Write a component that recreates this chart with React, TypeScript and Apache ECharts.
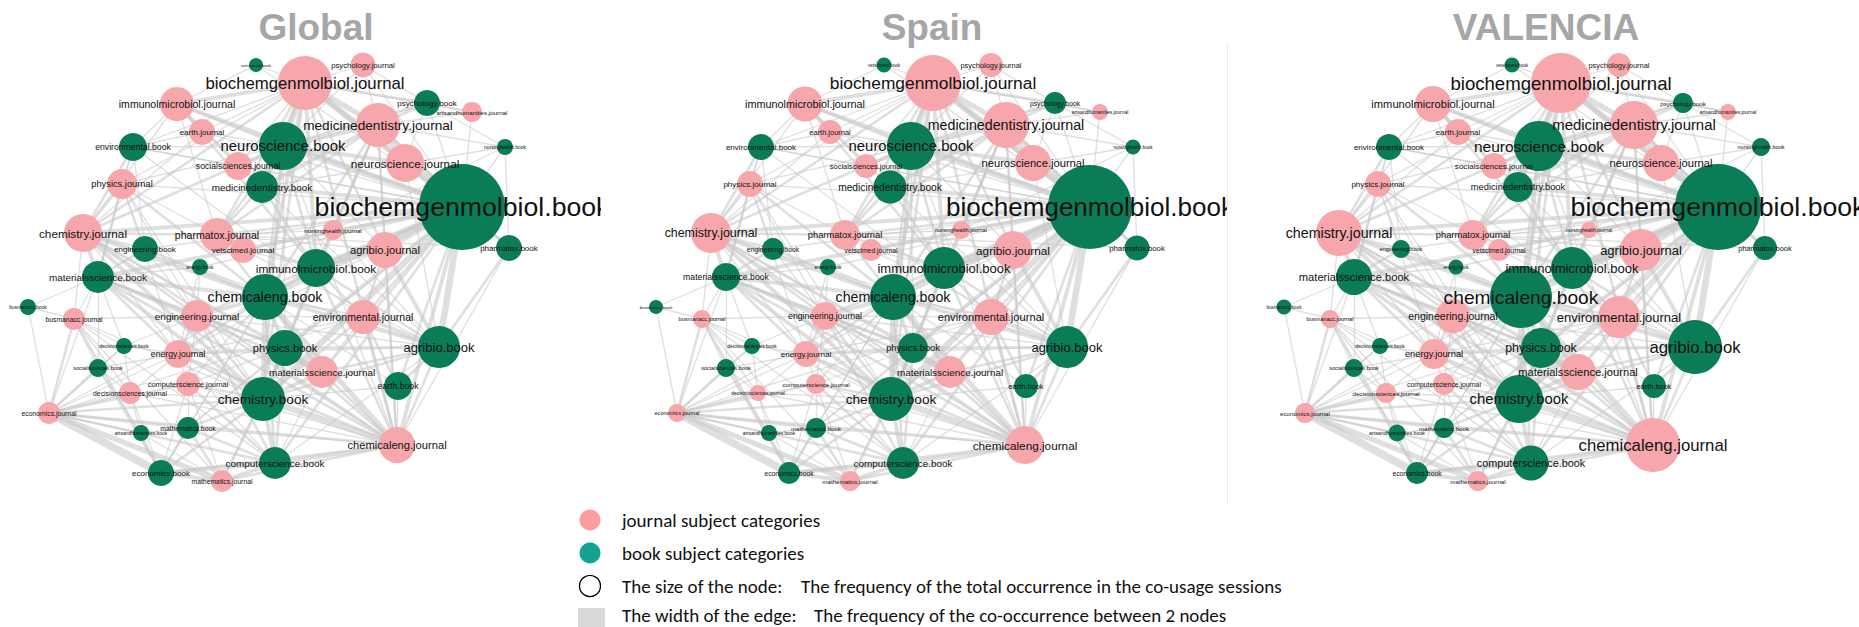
import React, { useEffect, useRef } from "react";
import * as echarts from "echarts";

// ---------- DATA ----------
const panelTitles = ["Global", "Spain", "VALENCIA"];

const nodeNames = [
  "vetscimed.book", "biochemgenmolbiol.journal", "psychology.journal", "immunolmicrobiol.journal",
  "earth.journal", "environmental.book", "neuroscience.book", "medicinedentistry.journal",
  "psychology.book", "artsandhumanities.journal", "nursinghealth.book", "neuroscience.journal",
  "socialsciences.journal", "medicinedentistry.book", "physics.journal", "biochemgenmolbiol.book",
  "engineering.book", "vetscimed.journal", "pharmatox.journal", "chemistry.journal",
  "nursinghealth.journal", "agribio.journal", "pharmatox.book", "energy.book",
  "immunolmicrobiol.book", "materialsscience.book", "chemicaleng.book", "busmanacc.book",
  "busmanacc.journal", "engineering.journal", "environmental.journal", "agribio.book",
  "decisionsciences.book", "energy.journal", "physics.book", "socialsciences.book",
  "materialsscience.journal", "earth.book", "computerscience.journal", "decisionsciences.journal",
  "chemistry.book", "economics.journal", "mathematics.book", "artsandhumanities.book",
  "chemicaleng.journal", "computerscience.book", "economics.book", "mathematics.journal",
];

// layout coordinates of the network (same layout in the three panels)
const layoutX = [
  256, 305, 363, 177, 202, 133, 283, 378, 427, 472, 505, 405, 238, 262, 122, 462,
  145, 243, 217, 83, 333, 385, 509, 200, 316, 98, 265, 28, 74, 197, 363, 439,
  124, 178, 285, 98, 322, 398, 188, 130, 263, 49, 188, 141, 397, 275, 161, 222,
];
const layoutY = [
  65, 83, 65, 104, 132, 147, 146, 125, 103, 112, 147, 163, 166, 187, 184, 207,
  249, 250, 235, 233, 230, 250, 248, 267, 268, 277, 297, 307, 319, 316, 317, 347,
  346, 354, 348, 368, 372, 386, 384, 393, 399, 413, 428, 433, 445, 463, 473, 481,
];

// node size (radius) = total occurrence, per panel
const sizeGlobal = [
  7, 27, 12.5, 17, 13, 14, 24, 22, 13, 10, 8, 19, 14, 16, 15, 43,
  13, 13, 17, 19, 10, 18, 13, 8, 19, 16, 23, 8, 11, 16, 17, 21,
  8, 14, 18, 9, 16, 14, 12, 11, 22, 11, 11, 8, 18, 16, 13, 11,
];
const sizeSpain = [
  7.5, 28, 12, 17.5, 12, 13, 24, 23, 11, 8, 7.5, 18, 12, 16.5, 13, 42,
  11, 11, 15, 20, 9, 19, 12.5, 8, 21, 14, 23, 7, 9, 14, 18, 21,
  8, 13, 15, 9, 16, 12, 10, 8, 22, 9, 10, 8, 19, 16, 11, 10,
];
const sizeValencia = [
  7.5, 30, 12, 18, 13, 13, 25, 24, 10, 8, 9, 18, 13, 15, 13, 43,
  9, 11, 15, 23, 8, 21, 12, 7.5, 21, 18, 31, 7.5, 9, 17, 21, 27,
  8, 15, 20, 9, 18, 12, 11, 10, 24, 10, 10, 8.5, 27, 17.5, 11, 10,
];
const panelSizes = [sizeGlobal, sizeSpain, sizeValencia];

// co-occurrence edges: [source index, target index, weight]
const edges: [number, number, number][] = [
  [15, 1, 5], [15, 6, 4], [15, 7, 4], [15, 24, 5], [15, 26, 5], [15, 40, 5], [15, 31, 5], [15, 21, 3],
  [15, 3, 3], [15, 11, 3], [15, 13, 3], [15, 22, 2], [15, 18, 2], [15, 34, 3], [15, 30, 2], [15, 44, 3],
  [15, 25, 3], [15, 19, 3], [15, 45, 2], [15, 37, 2], [15, 29, 2], [15, 17, 1], [15, 36, 2], [15, 8, 1],
  [15, 20, 1], [15, 10, 1], [15, 33, 1], [15, 4, 1], [15, 14, 1], [15, 5, 1], [15, 12, 1], [15, 42, 1],
  [15, 16, 1], [15, 23, 1], [15, 0, 1], [15, 2, 1], [15, 9, 1],
  [26, 40, 4], [26, 25, 3], [26, 19, 3], [26, 44, 4], [26, 34, 3], [26, 29, 3], [26, 33, 2], [26, 24, 3],
  [26, 31, 3], [26, 30, 2], [26, 36, 3], [26, 45, 2], [26, 6, 2], [26, 7, 2], [26, 1, 3], [26, 16, 2],
  [26, 23, 1], [26, 18, 2], [26, 14, 2], [26, 37, 1], [26, 42, 1], [26, 38, 1],
  [40, 44, 5], [40, 19, 3], [40, 25, 3], [40, 34, 3], [40, 45, 3], [40, 42, 2], [40, 36, 3], [40, 29, 2],
  [40, 33, 2], [40, 31, 2], [40, 30, 2], [40, 24, 2], [40, 7, 2], [40, 6, 2], [40, 1, 2], [40, 46, 2],
  [40, 47, 2], [40, 38, 2], [40, 37, 1], [40, 39, 1], [40, 14, 1],
  [44, 45, 3], [44, 31, 2], [44, 36, 2], [44, 34, 2], [44, 30, 2], [44, 29, 2], [44, 33, 2], [44, 25, 2],
  [44, 37, 1], [44, 46, 2], [44, 47, 2], [44, 42, 1], [44, 19, 2], [44, 24, 2], [44, 21, 2], [44, 38, 1],
  [44, 39, 1], [44, 6, 1], [44, 7, 1], [44, 1, 2], [44, 22, 1], [44, 41, 2],
  [41, 46, 6], [41, 47, 4], [41, 28, 2], [41, 27, 1], [41, 39, 2], [41, 35, 2], [41, 32, 1], [41, 43, 1],
  [41, 42, 2], [41, 45, 2], [41, 38, 2], [41, 33, 1], [41, 40, 2], [41, 26, 1], [41, 25, 1], [41, 30, 1],
  [28, 27, 1], [28, 32, 1], [28, 35, 1], [28, 39, 1], [28, 46, 2], [28, 25, 1], [28, 29, 1], [28, 47, 1],
  [28, 45, 1], [28, 40, 1],
  [46, 47, 3], [46, 45, 3], [46, 42, 2], [46, 43, 1], [46, 39, 1], [46, 35, 1], [46, 38, 1], [46, 26, 1],
  [47, 45, 3], [47, 42, 2], [47, 38, 1], [47, 34, 1],
  [45, 38, 2], [45, 42, 2], [45, 34, 2], [45, 33, 1], [45, 29, 2], [45, 31, 1], [45, 36, 1],
  [1, 6, 4], [1, 7, 4], [1, 3, 3], [1, 2, 1], [1, 8, 2], [1, 11, 3], [1, 13, 3], [1, 24, 3],
  [1, 4, 1], [1, 12, 1], [1, 18, 2], [1, 21, 2], [1, 19, 2], [1, 5, 1], [1, 14, 1], [1, 0, 1], [1, 9, 1],
  [6, 7, 3], [6, 11, 3], [6, 13, 3], [6, 3, 2], [6, 8, 2], [6, 2, 1], [6, 12, 2], [6, 18, 2],
  [6, 24, 2], [6, 4, 1], [6, 14, 1], [6, 5, 1], [6, 19, 2], [6, 21, 1], [6, 34, 1],
  [7, 8, 2], [7, 11, 3], [7, 13, 3], [7, 9, 1], [7, 10, 1], [7, 2, 1], [7, 24, 2], [7, 21, 2],
  [7, 22, 2], [7, 20, 1], [7, 18, 2],
  [31, 21, 3], [31, 30, 3], [31, 37, 2], [31, 24, 2], [31, 36, 2], [31, 34, 2], [31, 22, 2], [31, 11, 1],
  [31, 17, 1], [31, 20, 1], [31, 19, 1], [31, 29, 1], [31, 33, 1], [31, 13, 1],
  [25, 19, 3], [25, 16, 2], [25, 29, 2], [25, 14, 2], [25, 33, 2], [25, 27, 1], [25, 34, 2], [25, 36, 2],
  [25, 23, 1], [25, 5, 1], [25, 32, 1], [25, 35, 1],
  [19, 14, 2], [19, 5, 2], [19, 16, 2], [19, 18, 2], [19, 29, 2], [19, 34, 2], [19, 3, 1], [19, 4, 1],
  [19, 33, 1], [19, 36, 1], [19, 28, 1],
  [5, 14, 1], [5, 4, 1], [5, 3, 1], [5, 16, 1], [5, 12, 1], [5, 30, 1],
  [3, 4, 1], [3, 0, 1], [3, 12, 1], [3, 18, 1], [3, 13, 2], [3, 24, 2],
  [14, 16, 1], [14, 18, 1], [14, 29, 1], [14, 33, 1],
  [18, 17, 1], [18, 22, 1], [18, 13, 2], [18, 24, 2], [18, 21, 1], [18, 20, 1],
  [24, 21, 2], [24, 17, 1], [24, 30, 2], [24, 34, 1], [24, 13, 2],
  [34, 36, 2], [34, 33, 2], [34, 29, 2], [34, 38, 1], [34, 42, 1],
  [30, 37, 2], [30, 21, 2], [30, 36, 1], [30, 29, 1], [30, 33, 1],
  [8, 9, 1], [8, 2, 1], [8, 10, 1], [8, 11, 1], [8, 12, 1],
  [10, 20, 1], [10, 13, 1], [10, 22, 1],
  [29, 33, 2], [29, 16, 1], [29, 38, 1], [29, 23, 1], [29, 32, 1],
  [33, 38, 1], [33, 39, 1], [33, 23, 1], [33, 32, 1], [33, 35, 1],
  [32, 35, 1], [32, 39, 1], [35, 39, 1], [35, 43, 1],
  [43, 42, 1], [43, 47, 1], [43, 39, 1], [42, 38, 1],
];

const legendItems = ["journal subject categories", "book subject categories"];
const legendSizeText = ["The size of the node:", "The frequency of the total occurrence in the co-usage sessions"];
const legendEdgeText = ["The width of the edge:", "The frequency of the co-occurrence between 2 nodes"];

// ---------- STYLE ----------
const W = 1859;
const H = 627;
const PANEL_W = 600;
const panelLeft = [0, 628, 1256];
const titleX = [316, 932, 1546];
const PINK = "#f7a6ab";
const GREEN = "#0b7c58";
const LEG_PINK = "#ff9c9c";
const LEG_TEAL = "#12a391";
const LABEL_FONT = "'Liberation Sans', Arial, sans-serif";
const LEGEND_FONT = "Carlito, Calibri, Lato, sans-serif";

export default function App() {
  const ref = useRef<HTMLDivElement>(null);

  useEffect(() => {
    document.body.style.margin = "0";
    if (!ref.current) return;
    const chart = echarts.init(ref.current, undefined, { renderer: "svg" });

    const grids = panelLeft.map((l) => ({ left: l, top: 0, width: PANEL_W, height: H }));
    const xAxes = panelLeft.map((_, i) => ({ gridIndex: i, type: "value", min: 0, max: PANEL_W, show: false }));
    const yAxes = panelLeft.map((_, i) => ({ gridIndex: i, type: "value", min: 0, max: H, inverse: true, show: false }));

    const series = panelSizes.map((sizes, i) => ({
      type: "graph",
      coordinateSystem: "cartesian2d",
      xAxisIndex: i,
      yAxisIndex: i,
      silent: true,
      emphasis: { disabled: true },
      data: nodeNames.map((n, k) => ({
        name: n,
        value: [layoutX[k], layoutY[k]],
        symbolSize: sizes[k] * 2,
        itemStyle: { color: n.endsWith(".journal") ? PINK : GREEN },
        label: { fontSize: Math.max(3, sizes[k] * 0.62) },
      })),
      links: edges.map(([s, t, w]) => ({ source: s, target: t, lineStyle: { width: w * 1.3 } })),
      lineStyle: { color: "#c8c8c8", opacity: 0.58, curveness: 0 },
      label: {
        show: true,
        position: "inside",
        color: "#111",
        fontFamily: LABEL_FONT,
        formatter: "{b}",
      },
    }));

    const graphic: any[] = [];
    panelTitles.forEach((t, i) => {
      graphic.push({
        type: "text",
        x: titleX[i],
        y: 27,
        z: 100,
        style: {
          text: t,
          fill: "#a6a6a6",
          font: `bold 37px ${LABEL_FONT}`,
          textAlign: "center",
          textVerticalAlign: "middle",
        },
      });
    });
    // panel clipping masks
    graphic.push({ type: "rect", z: 90, shape: { x: 601, y: 40, width: 27, height: 470 }, style: { fill: "#fff" } });
    graphic.push({ type: "rect", z: 90, shape: { x: 1228, y: 40, width: 28, height: 470 }, style: { fill: "#fff" } });
    graphic.push({ type: "line", z: 91, shape: { x1: 1227.5, y1: 43, x2: 1227.5, y2: 505 }, style: { stroke: "#ececec", lineWidth: 1 } });

    // legend
    const legX = 590;
    const txtX = 622;
    const rows = [520, 553, 586, 615];
    graphic.push({ type: "circle", z: 100, shape: { cx: legX, cy: rows[0], r: 10.5 }, style: { fill: LEG_PINK } });
    graphic.push({ type: "circle", z: 100, shape: { cx: legX, cy: rows[1], r: 10.5 }, style: { fill: LEG_TEAL } });
    graphic.push({ type: "circle", z: 100, shape: { cx: legX, cy: rows[2], r: 10.5 }, style: { fill: "#fff", stroke: "#000", lineWidth: 1.3 } });
    graphic.push({ type: "rect", z: 100, shape: { x: 578, y: 608, width: 27, height: 20 }, style: { fill: "#d9d9d9" } });
    const legTexts: [string, number, number][] = [
      [legendItems[0], txtX, rows[0]],
      [legendItems[1], txtX, rows[1]],
      [legendSizeText[0], txtX, rows[2]],
      [legendSizeText[1], 801, rows[2]],
      [legendEdgeText[0], txtX, rows[3]],
      [legendEdgeText[1], 814, rows[3]],
    ];
    legTexts.forEach(([t, x, y]) => {
      graphic.push({
        type: "text",
        x,
        y,
        z: 100,
        style: { text: t, fill: "#111", font: `19px ${LEGEND_FONT}`, textAlign: "left", textVerticalAlign: "middle" },
      });
    });

    chart.setOption({
      animation: false,
      backgroundColor: "#fff",
      grid: grids,
      xAxis: xAxes,
      yAxis: yAxes,
      series,
      graphic,
    });

    return () => chart.dispose();
  }, []);

  return <div ref={ref} style={{ width: W, height: H }} />;
}
